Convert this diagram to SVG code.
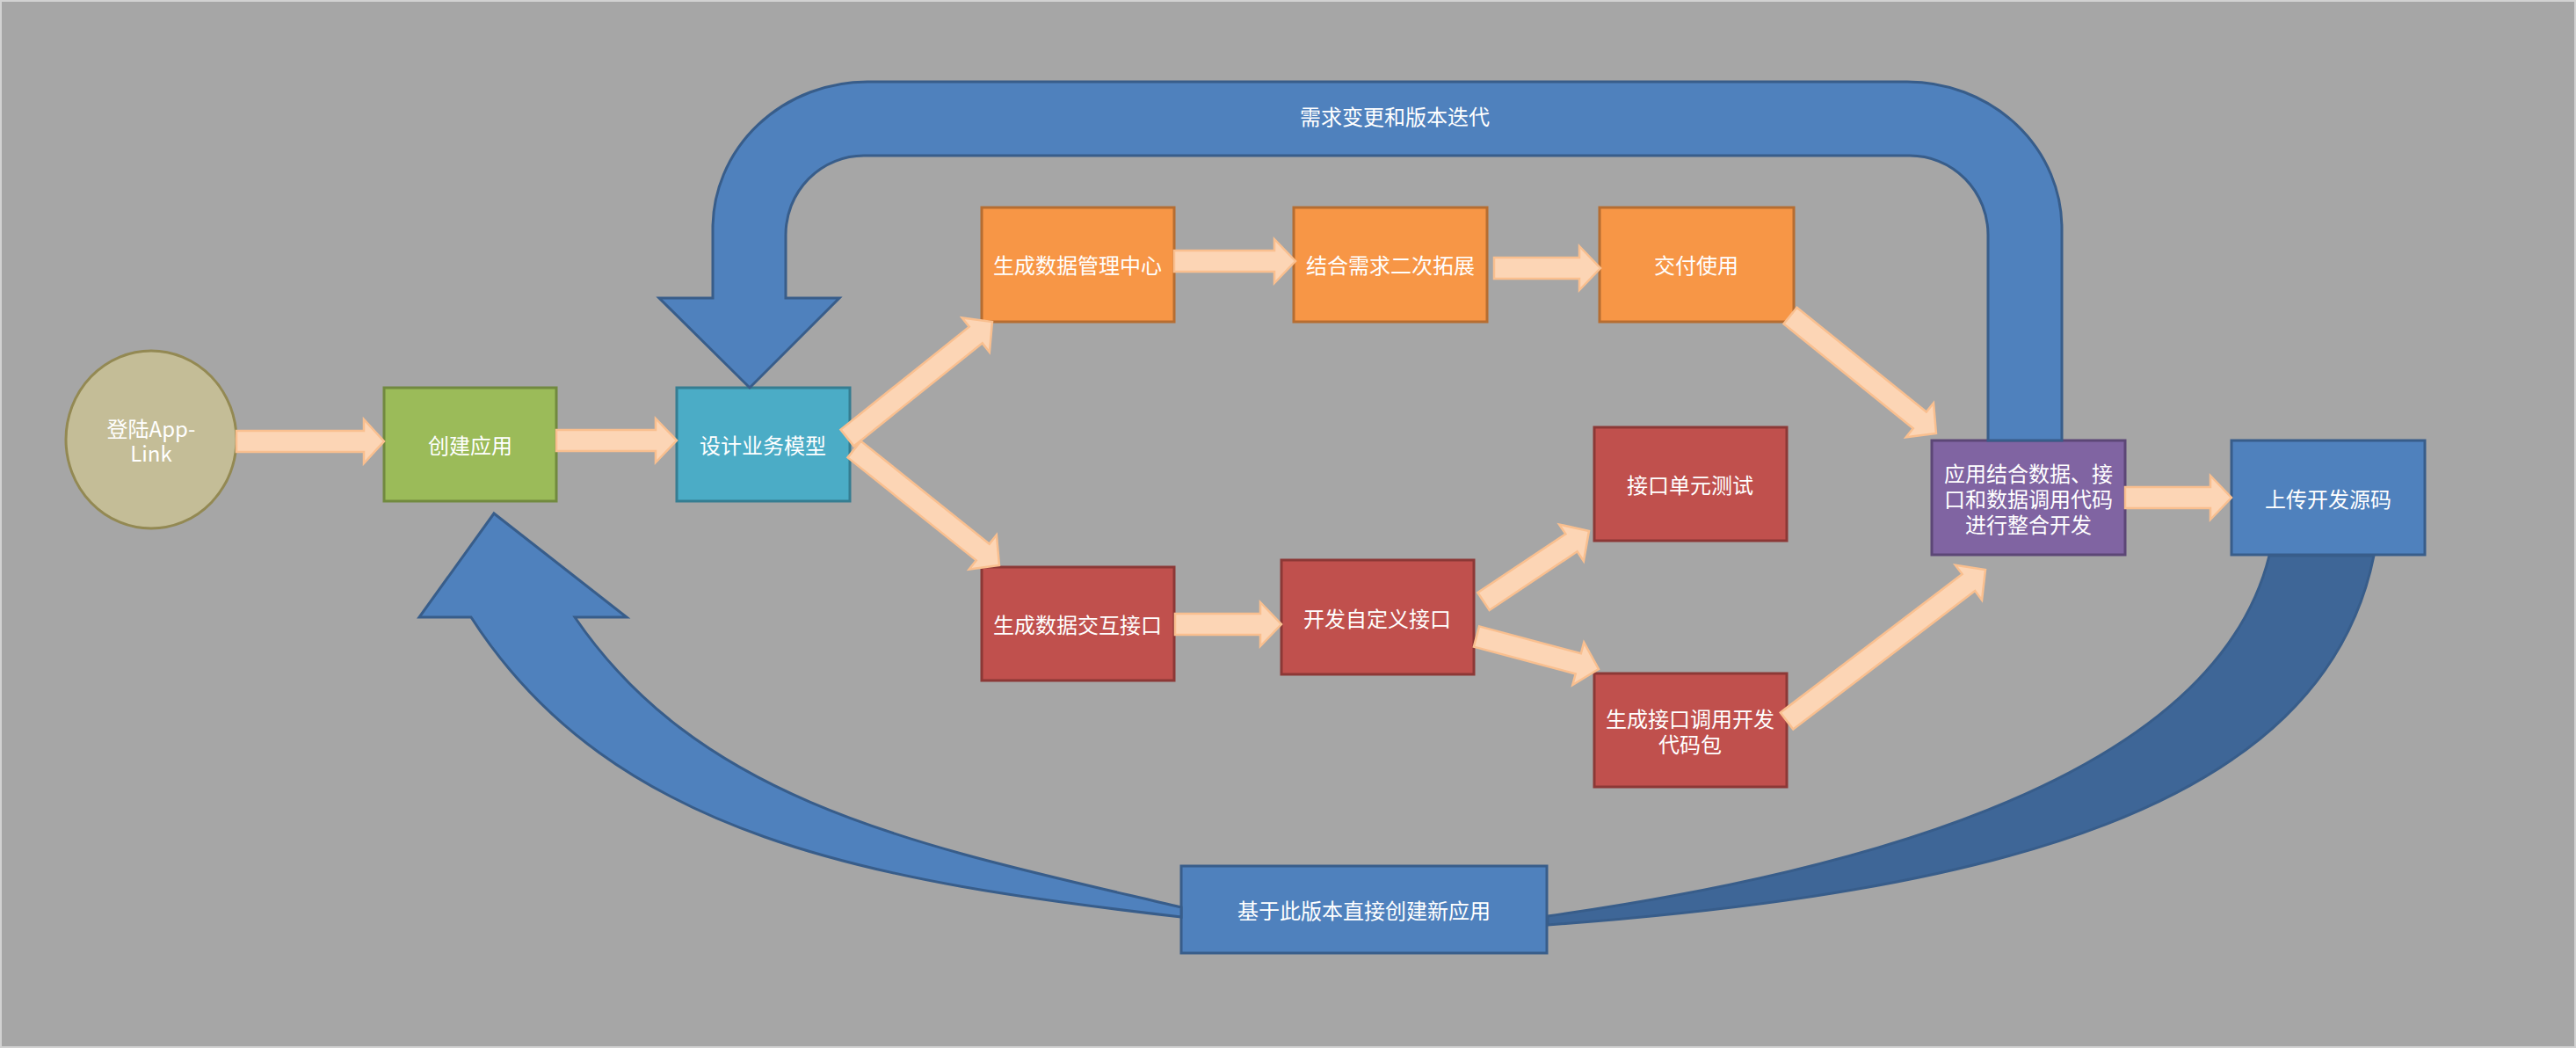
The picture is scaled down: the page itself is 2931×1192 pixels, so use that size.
<svg xmlns="http://www.w3.org/2000/svg" width="2931" height="1192" viewBox="0 0 2931 1192">
<style>
.t{font-family:"Noto Sans CJK SC","Liberation Sans",sans-serif;font-size:24px;fill:#ffffff;text-anchor:middle;dominant-baseline:central}
.box{stroke-width:3}
.pa{fill:#fcd5b5;stroke:#f9bf8f;stroke-width:2.5;stroke-linejoin:miter}
.blue{fill:#4f81bd;stroke:#385d8a;stroke-width:3}
.dblue{fill:#3e6697;stroke:#385d8a;stroke-width:3}
</style>
<rect x="1" y="1" width="2929" height="1190" fill="#a6a6a6" stroke="#d2d2d2" stroke-width="2"/>
<g id="nodes">
<g id="n-login"><ellipse cx="172" cy="500" rx="97" ry="101" fill="#c4bd97" stroke="#938953" stroke-width="3"/><text class="t" x="172" y="486">登陆App-<tspan x="172" dy="28">Link</tspan></text></g>
<g id="n-create"><rect class="box" x="437" y="441" width="196" height="129" fill="#9bbb59" stroke="#71893f"/><text class="t" x="535" y="505">创建应用</text></g>
<g id="n-design"><rect class="box" x="770" y="441" width="197" height="129" fill="#4bacc6" stroke="#357d91"/><text class="t" x="868" y="505">设计业务模型</text></g>
<g id="n-datacenter"><rect class="box" x="1117" y="236" width="219" height="130" fill="#f79646" stroke="#b66d31"/><text class="t" x="1226" y="300">生成数据管理中心</text></g>
<g id="n-extend"><rect class="box" x="1472" y="236" width="220" height="130" fill="#f79646" stroke="#b66d31"/><text class="t" x="1582" y="300">结合需求二次拓展</text></g>
<g id="n-deliver"><rect class="box" x="1820" y="236" width="221" height="130" fill="#f79646" stroke="#b66d31"/><text class="t" x="1930" y="300">交付使用</text></g>
<g id="n-dataapi"><rect class="box" x="1117" y="645" width="219" height="129" fill="#c0504d" stroke="#8c3836"/><text class="t" x="1226" y="709">生成数据交互接口</text></g>
<g id="n-customapi"><rect class="box" x="1458" y="637" width="219" height="130" fill="#c0504d" stroke="#8c3836"/><text class="t" x="1567" y="702">开发自定义接口</text></g>
<g id="n-unittest"><rect class="box" x="1814" y="486" width="219" height="129" fill="#c0504d" stroke="#8c3836"/><text class="t" x="1923" y="550">接口单元测试</text></g>
<g id="n-sdk"><rect class="box" x="1814" y="766" width="219" height="129" fill="#c0504d" stroke="#8c3836"/><text class="t" x="1923" y="816">生成接口调用开发<tspan x="1923" dy="29">代码包</tspan></text></g>
<g id="n-integrate"><rect class="box" x="2198" y="501" width="220" height="130" fill="#8064a2" stroke="#5c4776"/><text class="t" x="2308" y="537">应用结合数据、接<tspan x="2308" dy="29">口和数据调用代码</tspan><tspan x="2308" dy="29">进行整合开发</tspan></text></g>
<g id="n-upload"><rect class="box" x="2539" y="501" width="220" height="130" fill="#4f81bd" stroke="#385d8a"/><text class="t" x="2649" y="566">上传开发源码</text></g>
<g id="n-newapp"><rect class="box" x="1344" y="985" width="416" height="99" fill="#4f81bd" stroke="#385d8a"/><text class="t" x="1552" y="1034">基于此版本直接创建新应用</text></g>
</g>
<g id="connectors">
<path class="blue" d="M2262,501 L2262,267 A89,90 0 0 0 2173,177 L983,177 A89,90 0 0 0 894,267 L894,339 L955,339 L853,441 L750,339 L811,339 L811,260 A176,167 0 0 1 987,93 L2170,93 A176,167 0 0 1 2346,260 L2346,501 Z"/>
<text class="t" x="1587" y="131">需求变更和版本迭代</text>
<path class="blue" d="M654,702 L713,702 L562,584 L477,702 L536,702 C698,954 996,1003 1344,1043 L1344,1032 C1052,963 801,917 654,702 Z"/>
<path class="dblue" d="M2582,632 L2701,632 C2642,924 2260,1015 1761,1052 L1761,1042 C2157,986 2522,873 2582,632 Z"/>
<polygon class="pa" points="269,490 414,490 414,477 437,502 414,527 414,514 269,514"/>
<polygon class="pa" points="633,489 746,489 746,476 770,501 746,526 746,513 633,513"/>
<polygon class="pa" points="1336,285 1450,285 1450,272 1474,297 1450,322 1450,309 1336,309"/>
<polygon class="pa" points="1700,293 1797,293 1797,280 1821,305 1797,330 1797,317 1700,317"/>
<polygon class="pa" points="1337,698 1434,698 1434,685 1458,710 1434,735 1434,722 1337,722"/>
<polygon class="pa" points="2418,554 2515,554 2515,541 2539,566 2515,591 2515,578 2418,578"/>
<polygon class="pa" transform="translate(964,498) rotate(-38.66)" points="0,-12 187.3,-12 187.3,-25 211.3,0 187.3,25 187.3,12 0,12"/>
<polygon class="pa" transform="translate(972,511) rotate(38.66)" points="0,-12 187.3,-12 187.3,-25 211.3,0 187.3,25 187.3,12 0,12"/>
<polygon class="pa" transform="translate(1688,684) rotate(-33.69)" points="0,-12 120.2,-12 120.2,-25 144.2,0 120.2,25 120.2,12 0,12"/>
<polygon class="pa" transform="translate(1680,724) rotate(14.91)" points="0,-12 119.8,-12 119.8,-25 143.8,0 119.8,25 119.8,12 0,12"/>
<polygon class="pa" transform="translate(2037,359) rotate(38.91)" points="0,-12 189.3,-12 189.3,-25 213.3,0 189.3,25 189.3,12 0,12"/>
<polygon class="pa" transform="translate(2033,820) rotate(-37.27)" points="0,-12 260,-12 260,-25 284,0 260,25 260,12 0,12"/>
</g>
</svg>
